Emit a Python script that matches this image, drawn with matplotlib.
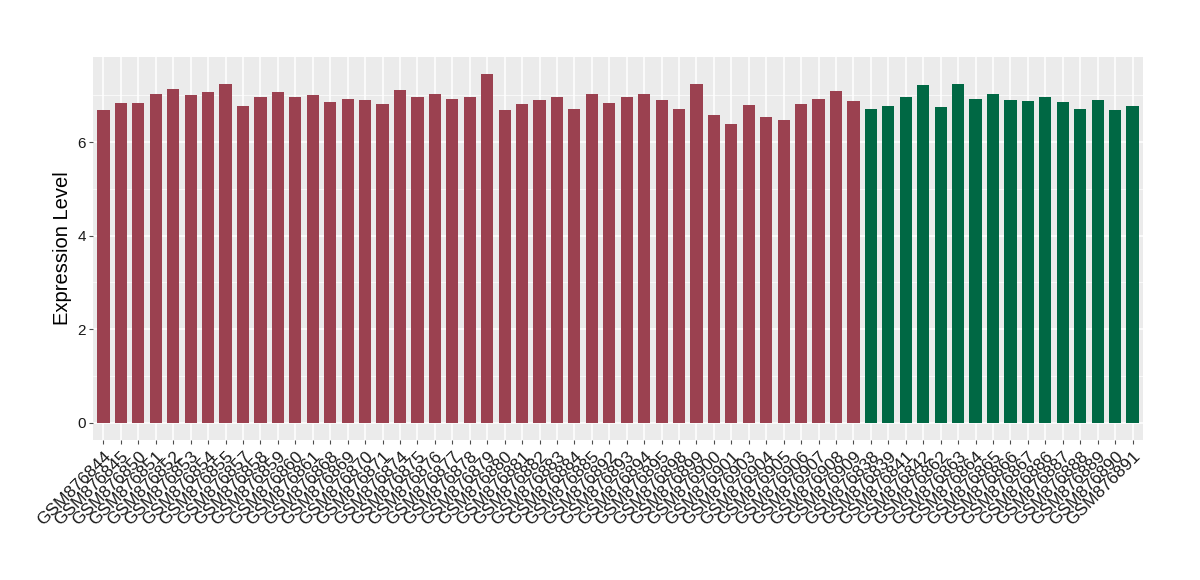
import matplotlib.pyplot as plt
import numpy as np

# sample ids and expression values
red_ids = ['844', '845', '850', '851', '852', '853', '854', '855', '857', '858',
           '859', '860', '861', '868', '869', '870', '871', '874', '875', '876',
           '877', '878', '879', '880', '881', '882', '883', '884', '885', '892',
           '893', '894', '895', '898', '899', '900', '901', '903', '904', '905',
           '906', '907', '908', '909']
red_vals = [6.68, 6.83, 6.83, 7.03, 7.13, 7.00, 7.07, 7.24, 6.77, 6.97,
            7.07, 6.97, 7.00, 6.85, 6.93, 6.91, 6.81, 7.11, 6.97, 7.04,
            6.93, 6.96, 7.45, 6.68, 6.81, 6.90, 6.97, 6.72, 7.03, 6.83,
            6.96, 7.04, 6.91, 6.72, 7.24, 6.58, 6.38, 6.79, 6.53, 6.47,
            6.81, 6.92, 7.09, 6.88]
green_ids = ['838', '839', '841', '842', '862', '863', '864', '865', '866', '867',
             '886', '887', '888', '889', '890', '891']
green_vals = [6.71, 6.77, 6.96, 7.22, 6.75, 7.24, 6.93, 7.04, 6.91, 6.88,
              6.96, 6.85, 6.72, 6.91, 6.68, 6.77]

labels = ['GSM876' + s for s in red_ids + green_ids]
values = red_vals + green_vals
colors = ['#9B4150'] * len(red_vals) + ['#006844'] * len(green_vals)

plt.rcParams['font.family'] = ['Liberation Sans', 'DejaVu Sans']

fig = plt.figure(figsize=(12, 5.8), dpi=100)
ax = fig.add_axes([93 / 1200, 1 - 440 / 580, 1050 / 1200, 383 / 580])

x = np.arange(len(values))
ax.set_facecolor('#EBEBEB')
ax.bar(x, values, width=0.7, color=colors, zorder=3)

ax.set_xlim(-0.6, len(values) - 0.4)
ax.set_ylim(-0.3725, 7.8225)
ax.set_yticks([0, 2, 4, 6])
ax.set_yticks([1, 3, 5, 7], minor=True)
ax.set_xticks(x)
ax.set_xticklabels(labels, rotation=45, ha='right', va='top',
                   rotation_mode='anchor', fontsize=12.5, color='#1A1A1A')
ax.tick_params(axis='y', labelsize=11, colors='#4D4D4D', labelcolor='#1A1A1A',
               length=3, pad=2)
ax.tick_params(axis='y', which='minor', length=0)
ax.tick_params(axis='x', colors='#4D4D4D', labelcolor='#1A1A1A', length=3)

ax.grid(True, which='major', color='white', linewidth=1.1, zorder=0)
ax.grid(True, which='minor', axis='y', color='white', linewidth=0.5, zorder=0)
for s in ax.spines.values():
    s.set_visible(False)

ax.set_ylabel('Expression Level', fontsize=14.5, color='black', labelpad=4)

fig.savefig('out.png', dpi=100)
